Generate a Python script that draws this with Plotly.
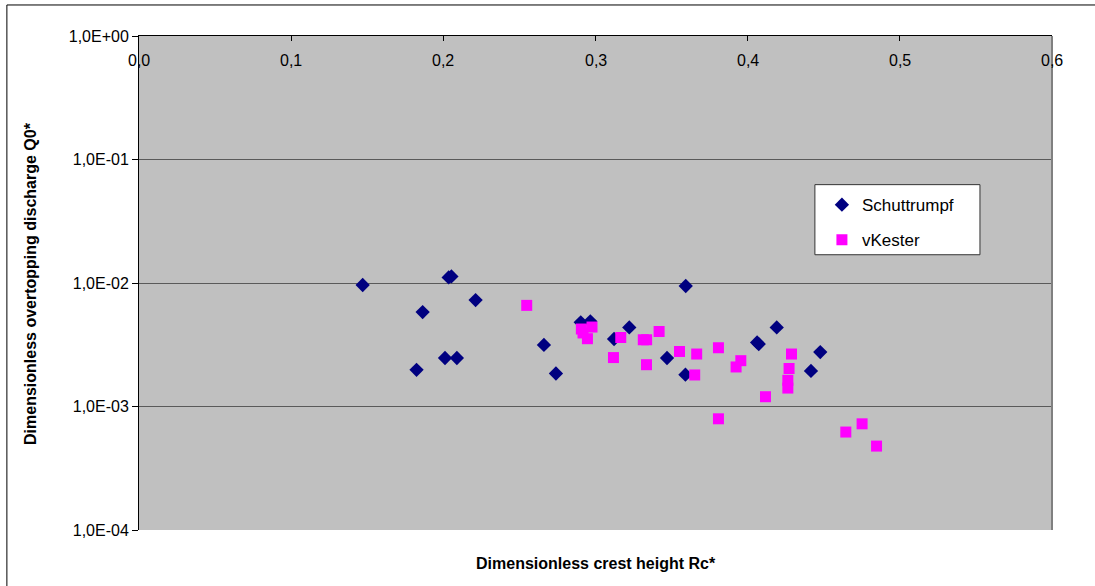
import plotly.graph_objects as go

# Schuttrumpf data
schut_x = [0.147, 0.2035, 0.2053, 0.1864, 0.2212, 0.1824, 0.2011, 0.2089, 0.2661, 0.2740,
           0.2903, 0.2966, 0.3122, 0.3222, 0.3593, 0.3470, 0.3591, 0.4062, 0.4073, 0.4191,
           0.4477, 0.4416]
schut_y = [0.00963, 0.0111, 0.0113, 0.00582, 0.00728, 0.00198, 0.00247, 0.00247, 0.00315, 0.00185,
           0.00480, 0.00489, 0.00352, 0.00437, 0.00946, 0.00247, 0.00181, 0.00330, 0.00320, 0.00437,
           0.00276, 0.00194]

# vKester data
vk_x = [0.2548, 0.2907, 0.2977, 0.2918, 0.2947, 0.3166, 0.3118, 0.3314, 0.3336, 0.3335,
        0.3418, 0.3552, 0.3665, 0.3652, 0.3808, 0.3808, 0.3955, 0.3924, 0.4288, 0.4272,
        0.4264, 0.4264, 0.4117, 0.4645, 0.4752, 0.4847]
vk_y = [0.00659, 0.00424, 0.00440, 0.00394, 0.00354, 0.00362, 0.00249, 0.00347, 0.00347, 0.00218,
        0.00405, 0.00279, 0.00266, 0.00180, 0.00299, 0.000795, 0.00235, 0.00209, 0.00266, 0.00203,
        0.00163, 0.00141, 0.00120, 0.000621, 0.000724, 0.000478]

x_ticks = [0.0, 0.1, 0.2, 0.3, 0.4, 0.5, 0.6]
x_ticktext = ["0,0", "0,1", "0,2", "0,3", "0,4", "0,5", "0,6"]
y_ticks = [1e-4, 1e-3, 1e-2, 1e-1, 1e0]
y_ticktext = ["1,0E-04", "1,0E-03", "1,0E-02", "1,0E-01", "1,0E+00"]

FONT = "Arial, Liberation Sans, sans-serif"

fig = go.Figure()
fig.add_trace(go.Scatter(x=schut_x, y=schut_y, mode="markers", name="Schuttrumpf",
                         legendgroup="a",
                         marker=dict(symbol="diamond", size=11, color="#000080",
                                     line=dict(width=0))))
fig.add_trace(go.Scatter(x=vk_x, y=vk_y, mode="markers", name="vKester",
                         legendgroup="b",
                         marker=dict(symbol="square", size=11, color="#FF00FF",
                                     line=dict(width=0))))

annotations = [
    dict(text="<b>Dimensionless crest height Rc*</b>", xref="paper", yref="paper",
         x=0.5, y=-0.067, xanchor="center", yanchor="middle", showarrow=False,
         font=dict(size=16, family=FONT)),
    dict(text="<b>Dimensionless overtopping discharge Q0*</b>", xref="paper", yref="paper",
         x=-0.1194, y=0.5, xanchor="center", yanchor="middle", textangle=-90,
         showarrow=False, font=dict(size=16, family=FONT)),
]
for tv, tt in zip(x_ticks, x_ticktext):
    annotations.append(dict(text=tt, xref="x", yref="paper", x=tv, y=0.951,
                            xanchor="center", yanchor="middle", showarrow=False,
                            font=dict(size=16, family=FONT)))

fig.update_layout(
    width=1095, height=586,
    margin=dict(l=139, r=43, t=36, b=56, autoexpand=False),
    paper_bgcolor="white",
    plot_bgcolor="#C0C0C0",
    font=dict(family=FONT, size=16, color="black"),
    showlegend=True,
    legend=dict(x=0.7480, y=0.694, xanchor="left", yanchor="top",
                bgcolor="rgba(0,0,0,0)", borderwidth=0,
                font=dict(size=17, family=FONT), tracegroupgap=10,
                traceorder="grouped", itemwidth=30),
    xaxis=dict(range=[0, 0.6], side="top", tickvals=x_ticks,
               showticklabels=False,
               ticks="inside", ticklen=5, tickcolor="black",
               showgrid=False, zeroline=False,
               showline=True, linecolor="black", linewidth=1),
    yaxis=dict(type="log", range=[-4, 0], tickvals=y_ticks, ticktext=y_ticktext,
               ticks="outside", ticklen=6, tickcolor="black",
               showgrid=True, gridcolor="#5a5a5a", gridwidth=1,
               showline=True, linecolor="black", linewidth=1, zeroline=False,
               tickfont=dict(size=16, family=FONT)),
    shapes=[
        dict(type="line", xref="paper", yref="paper", x0=1, x1=1, y0=0, y1=1,
             line=dict(color="#808080", width=2)),
        dict(type="rect", xref="paper", yref="paper", x0=-0.1447, x1=1.2,
             y0=-0.3, y1=1.0628, line=dict(color="black", width=1)),
        dict(type="rect", xref="paper", yref="paper", layer="above",
             x0=0.7403, x1=0.9211, y0=0.5572, y1=0.6991,
             fillcolor="white", line=dict(color="#333333", width=1)),
    ],
    annotations=annotations,
)

fig.write_html("out.html", config={"displayModeBar": False},
               post_script="document.body.style.margin='0px';")
